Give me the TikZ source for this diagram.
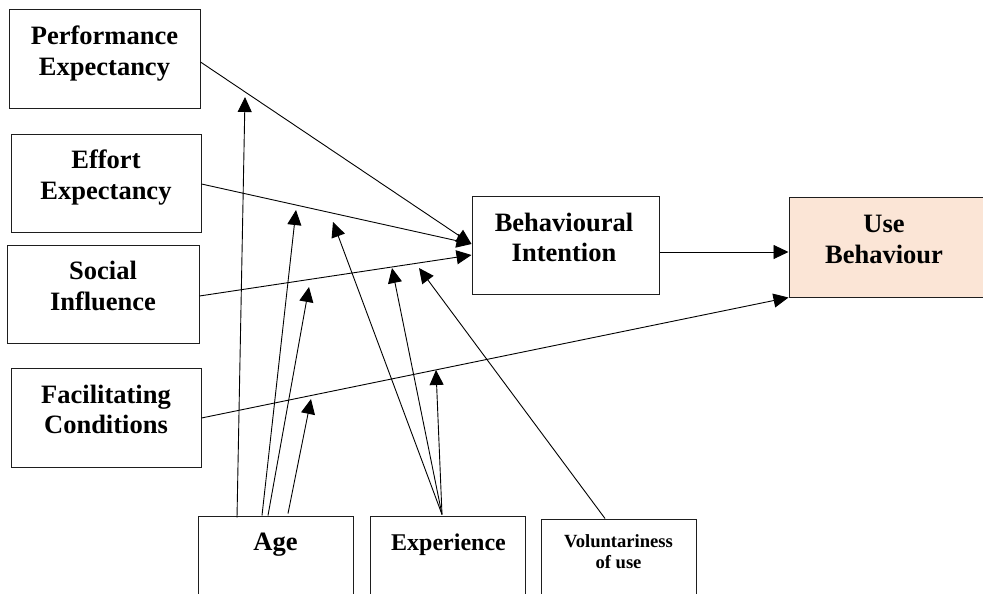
\documentclass[tikz,border=0pt]{standalone}
\usepackage{fontspec}
\setmainfont{Liberation Serif}
\usetikzlibrary{arrows.meta}
\definecolor{peach}{RGB}{251,229,214}
\definecolor{edge}{RGB}{30,30,30}
\begin{document}
\begin{tikzpicture}[x=1pt,y=-1pt,
  box/.style={draw=edge, line width=1pt, inner sep=0pt},
  lbl/.style={anchor=base, inner sep=0pt, font=\fontsize{26.5}{31}\selectfont\bfseries},
  mlbl/.style={anchor=base, inner sep=0pt, font=\fontsize{24}{28}\selectfont\bfseries},
  slbl/.style={anchor=base, inner sep=0pt, font=\fontsize{18.6}{21}\selectfont\bfseries},
  arr/.style={line width=0.9pt, -{Triangle[length=15pt,width=14pt]}}]
\useasboundingbox (0,0) rectangle (983,594);
\clip (0,0) rectangle (983,594);
% boxes
\node[box, minimum width=191pt, minimum height=98pt] (PE) at (104.5,59) {};
\node[box, minimum width=190pt, minimum height=98pt] (EE) at (106,183) {};
\node[box, minimum width=192pt, minimum height=98pt] (SI) at (103,294) {};
\node[box, minimum width=190pt, minimum height=99pt] (FC) at (106,417.5) {};
\node[box, minimum width=187pt, minimum height=98pt] (BI) at (565.5,245) {};
\node[box, fill=peach, minimum width=201pt, minimum height=100pt] (UB) at (889.5,247) {};
\node[box, minimum width=155pt, minimum height=94pt] (AG) at (275.5,563) {};
\node[box, minimum width=155pt, minimum height=94pt] (EX) at (448,563) {};
\node[box, minimum width=155pt, minimum height=91pt] (VO) at (618.5,564.5) {};
% texts
\node[lbl] (PEa) at (104.5,45) {Performance};
\node[lbl] (PEb) at (104.5,76) {Expectancy};
\node[lbl] (EEa) at (106,168) {Effort};
\node[lbl] (EEb) at (106,199) {Expectancy};
\node[lbl] (SIa) at (103,279) {Social};
\node[lbl] (SIb) at (103,310) {Influence};
\node[lbl] (FCa) at (106,403) {Facilitating};
\node[lbl] (FCb) at (106,433) {Conditions};
\node[lbl] (BIa) at (564,231) {Behavioural};
\node[lbl] (BIb) at (564,261) {Intention};
\node[lbl] (UBa) at (884,232) {Use};
\node[lbl] (UBb) at (884,263) {Behaviour};
\node[lbl] (AGa) at (275.5,550) {Age};
\node[mlbl] (EXa) at (448.5,550) {Experience};
\node[slbl] (VOa) at (618.5,547) {Voluntariness};
\node[slbl] (VOb) at (618.5,568) {of use};
% main connectors
\draw[arr] (PE.east |- 0,62) -- (BI.west |- 0,244);
\draw[arr] (EE.east |- 0,184) -- (BI.west |- 0,244);
\draw[arr] (SI.east |- 0,296) -- (BI.west |- 0,255);
\draw[arr] (FC.east |- 0,418) -- (UB.south west);
\draw[arr] (BI.east |- 0,252) -- (UB.west |- 0,252);
% moderator targets
\coordinate (m1) at (245,97);
\coordinate (m2) at (296,210);
\coordinate (m3) at (309,287);
\coordinate (m4) at (311,399);
\coordinate (e1) at (333,222);
\coordinate (e2) at (392,268);
\coordinate (e3) at (436,370);
\coordinate (v1) at (419,268);
% moderators
\draw[arr] ([yshift=-2pt]AG.north -| 237,0) -- (m1);
\draw[arr] (AG.north -| 262,0) -- (m2);
\draw[arr] (AG.north -| 268,0) -- (m3);
\draw[arr] ([yshift=2pt]AG.north -| 288,0) -- (m4);
\draw[arr] ([yshift=1pt]EX.north -| 442,0) -- (e1);
\draw[arr] ([yshift=1pt]EX.north -| 442,0) -- (e2);
\draw[arr] ([yshift=1pt]EX.north -| 442,0) -- (e3);
\draw[arr] (VO.north -| 605,0) -- (v1);
\end{tikzpicture}
\end{document}
